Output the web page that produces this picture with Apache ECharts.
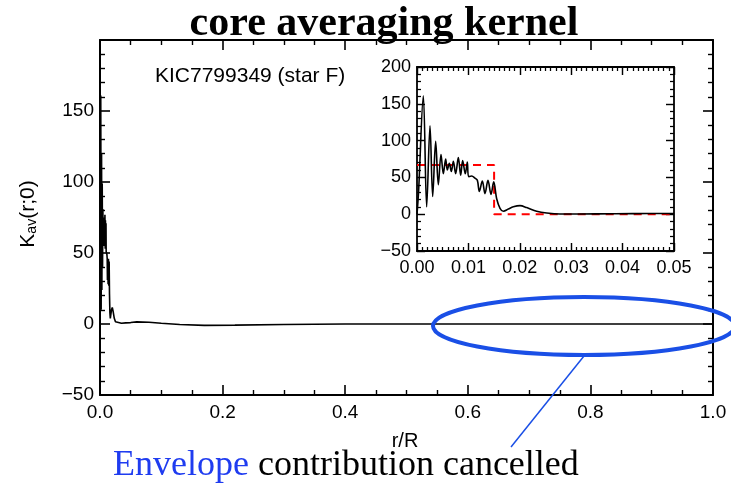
<!DOCTYPE html>
<html><head><meta charset="utf-8">
<script src="https://cdn.jsdelivr.net/npm/echarts@6/dist/echarts.min.js"></script>
<style>html,body{margin:0;padding:0;background:#fff}#c{width:731px;height:488px}</style>
</head><body><div id="c"></div>
<script>
// Kernel values near the centre
const innerR = [0, 0.0003, 0.00123, 0.00188, 0.00253, 0.00305, 0.00363, 0.00415, 0.00467, 0.00512, 0.00558, 0.0059, 0.00629, 0.00668, 0.00707, 0.00752, 0.00804, 0.0085, 0.00888, 0.0094, 0.00979, 0.01005, 0.01064, 0.01128, 0.01174, 0.01213, 0.01271, 0.01323, 0.01381, 0.0144, 0.01492, 0.0155, 0.01615, 0.0168, 0.01777, 0.01874, 0.02004, 0.02134, 0.02328, 0.02523, 0.02782, 0.035, 0.042, 0.05];
const innerK = [0, 30, 161, 10, 120, 24, 99, 40, 81, 55, 75, 60, 69, 58, 72, 55, 77, 53, 73, 55, 71, 51, 52, 49, 46, 31, 45, 28, 46, 27, 44, 21, 8, 4, 7, 10, 11.6, 9, 4, 1.6, 0.3, 0.5, 0.8, 1];
// Kernel values further out (main panel)
const outerR = [0.06, 0.08, 0.1, 0.13, 0.17, 0.22, 0.3, 0.4, 0.55, 0.7, 0.85, 1.0];
const outerK = [1.5, 1.2, 0.5, -0.4, -1, -0.8, -0.3, 0, 0, 0, 0, 0];
// Target step function (red dashed)
const stepR = [0, 0.015, 0.015, 0.05];
const stepK = [67, 67, 0, 0];
// Axis ranges / ticks
const mainX = {min: 0, max: 1, interval: 0.2};
const mainY = {min: -50, max: 200, interval: 50};
const insetX = {min: 0, max: 0.05, interval: 0.01};
const insetY = {min: -50, max: 200, interval: 50};

const innerPts = innerR.map((r, i) => [r, innerK[i]]);
const allPts = innerPts.concat(outerR.map((r, i) => [r, outerK[i]]));
const stepPts = stepR.map((r, i) => [r, stepK[i]]);

const minus = v => String(v).replace('-', '\u2212');
const FONT = 'Liberation Sans';

function ax(grid, pos, rng, opts) {
  return {
    type: 'value', gridIndex: grid, position: pos,
    min: rng.min, max: rng.max, interval: rng.interval,
    axisLine: {show: true, onZero: false, lineStyle: {color: '#000', width: opts.lw}},
    axisTick: {show: true, inside: true, length: opts.tick, lineStyle: {color: '#000', width: opts.lw * 0.8}},
    minorTick: {show: true, splitNumber: opts.minor, length: opts.tick / 2, lineStyle: {color: '#000', width: opts.lw * 0.7}},
    splitLine: {show: false},
    axisLabel: opts.labels ? {show: true, color: '#000', fontFamily: FONT, fontSize: opts.fs, margin: opts.margin, formatter: opts.fmt} : {show: false}
  };
}

const chart = echarts.init(document.getElementById('c'));
chart.setOption({
  backgroundColor: '#fff',
  animation: false,
  grid: [
    {left: 100, top: 40, width: 613, height: 355},
    {left: 417, top: 67, width: 257, height: 184, show: true, backgroundColor: '#fff', borderWidth: 0, z: 5}
  ],
  xAxis: [
    ax(0, 'bottom', mainX, {labels: true, lw: 2, tick: 10, minor: 4, fs: 19, margin: 8, fmt: v => v.toFixed(1)}),
    ax(0, 'top', mainX, {labels: false, lw: 2, tick: 10, minor: 4}),
    Object.assign(ax(1, 'bottom', insetX, {labels: true, lw: 1.8, tick: 8, minor: 10, fs: 18, margin: 8, fmt: v => v.toFixed(2)}), {z: 6}),
    Object.assign(ax(1, 'top', insetX, {labels: false, lw: 1.8, tick: 8, minor: 10}), {z: 6})
  ],
  yAxis: [
    ax(0, 'left', mainY, {labels: true, lw: 2, tick: 10, minor: 5, fs: 19, margin: 6, fmt: v => v === 200 ? '' : minus(v)}),
    ax(0, 'right', mainY, {labels: false, lw: 2, tick: 10, minor: 5}),
    Object.assign(ax(1, 'left', insetY, {labels: true, lw: 1.8, tick: 8, minor: 5, fs: 18, margin: 6, fmt: v => minus(v)}), {z: 6}),
    Object.assign(ax(1, 'right', insetY, {labels: false, lw: 1.8, tick: 8, minor: 5}), {z: 6})
  ],
  series: [
    {type: 'line', xAxisIndex: 0, yAxisIndex: 0, data: allPts, showSymbol: false, clip: true,
     lineStyle: {color: '#000', width: 1.6}},
    {type: 'line', xAxisIndex: 2, yAxisIndex: 2, data: stepPts, showSymbol: false, z: 7,
     lineStyle: {color: '#ff0000', width: 2, type: [8, 6]}},
    {type: 'line', xAxisIndex: 2, yAxisIndex: 2, data: innerPts, showSymbol: false, smooth: 0.35, z: 8,
     lineStyle: {color: '#000', width: 1.6}}
  ],
  graphic: [
    {type: 'text', x: 384, y: 3, z: 100,
     style: {text: 'core averaging kernel', font: 'bold 42px "Liberation Serif"', fill: '#000', align: 'center'}},
    {type: 'text', x: 155, y: 76, z: 100,
     style: {text: 'KIC7799349 (star F)', font: '21px "Liberation Sans"', fill: '#000', verticalAlign: 'middle'}},
    {type: 'text', x: 28, y: 214, rotation: Math.PI / 2, z: 100,
     style: {text: '{a|K}{s|av}{a|(r;0)}', align: 'center', verticalAlign: 'middle',
       rich: {a: {font: '21px "Liberation Sans"', fill: '#000'}, s: {font: '14px "Liberation Sans"', fill: '#000', padding: [9, 0, 0, 0]}}}},
    {type: 'text', x: 405, y: 441, z: 100,
     style: {text: 'r/R', font: '20px "Liberation Sans"', fill: '#000', align: 'center', verticalAlign: 'middle'}},
    {type: 'ellipse', z: 100, shape: {cx: 584, cy: 326, rx: 151, ry: 29},
     style: {fill: 'none', stroke: '#1a4fe6', lineWidth: 4}},
    {type: 'line', z: 100, shape: {x1: 584, y1: 356, x2: 511, y2: 447},
     style: {stroke: '#1a4fe6', lineWidth: 1.5}},
    {type: 'text', x: 113, y: 466, z: 100,
     style: {text: '{b|Envelope }{k|contribution cancelled}', verticalAlign: 'middle',
       rich: {b: {font: '36px "Liberation Serif"', fill: '#1f3cf0'}, k: {font: '36px "Liberation Serif"', fill: '#000'}}}}
  ]
});
</script></body></html>
